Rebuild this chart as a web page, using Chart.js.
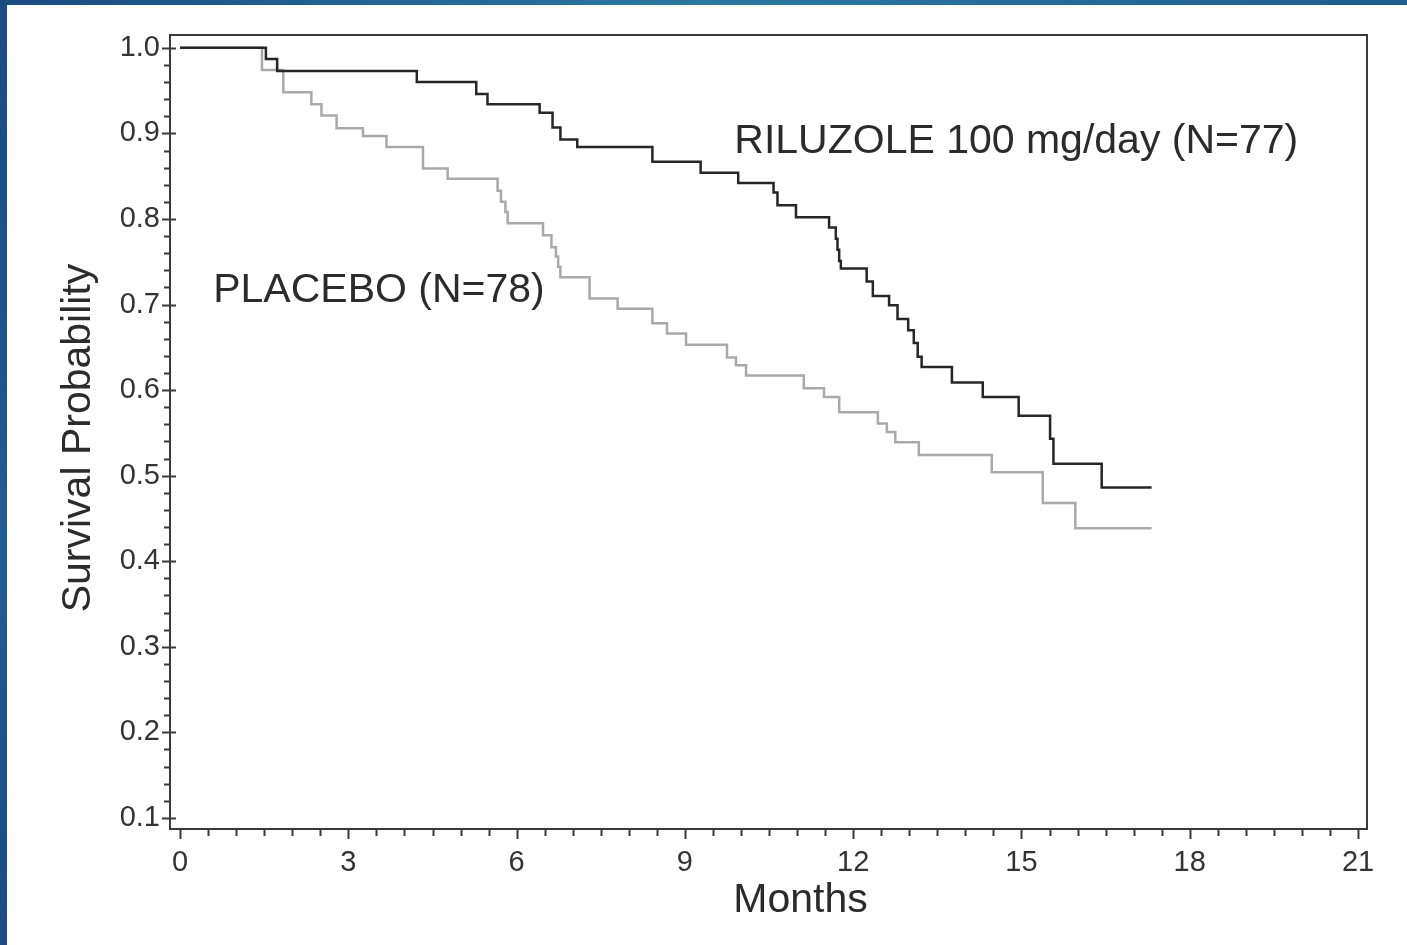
<!DOCTYPE html>
<html>
<head>
<meta charset="utf-8">
<title>Survival Probability - Riluzole vs Placebo</title>
<script src="https://cdn.jsdelivr.net/npm/chart.js@4.4.1/dist/chart.umd.min.js"></script>
<style>
  html, body { margin: 0; padding: 0; background: #fff; }
  body { width: 1407px; height: 945px; overflow: hidden; position: relative; }
  #wrap { position: absolute; left: 0; top: 0; width: 1407px; height: 945px; }
  #topBar { position: absolute; left: 0; top: 0; width: 1407px; height: 5px;
    background: linear-gradient(90deg, #1a4b82 0%, #2a79a0 50%, #1f5d8e 100%); }
  #leftBar { position: absolute; left: 0; top: 0; width: 7px; height: 945px;
    background: linear-gradient(180deg, #1a4b82 0%, #1f5e93 60%, #1a4b82 100%); }
</style>
</head>
<body>
<div id="wrap"><canvas id="kmChart" width="1407" height="945"></canvas></div>
<div id="topBar"></div>
<div id="leftBar"></div>
<script>
// Kaplan-Meier curves (months, survival probability)
const rilTimes = [0, 1.53, 1.73, 4.22, 5.28, 5.48, 6.41, 6.64, 6.78, 7.08, 8.42, 9.28, 9.95, 10.58, 10.65, 10.98,
  11.57, 11.69, 11.72, 11.75, 11.78, 12.24, 12.35, 12.64, 12.79, 12.98, 13.08, 13.15, 13.22, 13.76, 14.31,
  14.95, 15.51, 15.57, 16.43, 17.32];
const rilSurv = [1.0, 0.987, 0.973, 0.960, 0.946, 0.934, 0.924, 0.907, 0.893, 0.884, 0.867, 0.854, 0.842, 0.831, 0.816, 0.802,
  0.790, 0.777, 0.764, 0.751, 0.742, 0.727, 0.710, 0.699, 0.683, 0.670, 0.655, 0.639, 0.627, 0.609, 0.592,
  0.570, 0.543, 0.514, 0.486, 0.486];

const plaTimes = [0, 1.46, 1.84, 2.34, 2.52, 2.79, 3.26, 3.68, 4.33, 4.77, 5.66, 5.72, 5.80, 5.84, 6.47, 6.62,
  6.70, 6.74, 6.78, 7.30, 7.80, 8.42, 8.68, 9.02, 9.75, 9.91, 10.09, 11.12, 11.48, 11.75, 12.44, 12.60,
  12.75, 13.17, 14.47, 15.38, 15.96, 17.32];
const plaSurv = [1.0, 0.974, 0.948, 0.934, 0.921, 0.906, 0.897, 0.884, 0.859, 0.847, 0.833, 0.820, 0.808, 0.795, 0.781, 0.767,
  0.756, 0.744, 0.732, 0.707, 0.695, 0.678, 0.666, 0.653, 0.638, 0.629, 0.617, 0.602, 0.592, 0.574, 0.561, 0.551,
  0.539, 0.524, 0.504, 0.468, 0.4385, 0.4385];

const xTickValues = [0, 3, 6, 9, 12, 15, 18, 21];
const yTickValues = [0.1, 0.2, 0.3, 0.4, 0.5, 0.6, 0.7, 0.8, 0.9, 1.0];

// curve labels, anchored in data units (left edge, baseline)
const curveLabels = ['RILUZOLE 100 mg/day (N=77)', 'PLACEBO (N=78)'];
const curveLabelX = [9.88, 0.59];
const curveLabelY = [0.877, 0.703];

const FONT = '"Liberation Sans", Arial, Helvetica, sans-serif';
const INK = '#2b2b2b';

function toPoints(times, surv) {
  return times.map((t, i) => ({ x: t, y: surv[i] }));
}

const framePlugin = {
  id: 'framePlugin',
  afterDraw(chart) {
    const { ctx, chartArea: a, scales: { x, y } } = chart;
    ctx.save();
    ctx.strokeStyle = '#3a3a3a';
    ctx.lineWidth = 2;
    ctx.strokeRect(a.left, a.top, a.right - a.left, a.bottom - a.top);

    // x ticks every half month, below the axis
    ctx.beginPath();
    for (let k = 0; k <= 42; k++) {
      const px = Math.round(x.getPixelForValue(k * 0.5)) + 0.5;
      const len = k % 6 === 0 ? 10 : 7;
      ctx.moveTo(px, a.bottom);
      ctx.lineTo(px, a.bottom + len);
    }
    // y ticks every 0.02, majors cross the axis
    for (let k = 5; k <= 50; k++) {
      const py = Math.round(y.getPixelForValue(k * 0.02)) + 0.5;
      if (k % 5 === 0) {
        ctx.moveTo(a.left - 8, py);
        ctx.lineTo(a.left + 6, py);
      } else {
        ctx.moveTo(a.left - 6, py);
        ctx.lineTo(a.left, py);
      }
    }
    ctx.stroke();

    // curve labels
    ctx.fillStyle = INK;
    ctx.font = '41px ' + FONT;
    ctx.textAlign = 'left';
    ctx.textBaseline = 'alphabetic';
    curveLabels.forEach((txt, i) => {
      ctx.fillText(txt, x.getPixelForValue(curveLabelX[i]), y.getPixelForValue(curveLabelY[i]));
    });

    // axis titles
    ctx.textAlign = 'center';
    ctx.fillText('Months', (a.left + a.right) / 2 + 32, a.bottom + 83);
    ctx.translate(90, (a.top + a.bottom) / 2 + 6);
    ctx.rotate(-Math.PI / 2);
    ctx.fillText('Survival Probability', 0, 0);
    ctx.restore();
  }
};

new Chart(document.getElementById('kmChart'), {
  type: 'line',
  data: {
    datasets: [
      {
        label: 'RILUZOLE 100 mg/day (N=77)',
        data: toPoints(rilTimes, rilSurv),
        borderColor: '#262626',
        borderWidth: 2.5,
        stepped: 'before',
        pointRadius: 0,
        fill: false
      },
      {
        label: 'PLACEBO (N=78)',
        data: toPoints(plaTimes, plaSurv),
        borderColor: '#a9a9a9',
        borderWidth: 2.5,
        stepped: 'before',
        pointRadius: 0,
        fill: false
      }
    ]
  },
  options: {
    responsive: false,
    animation: false,
    events: [],
    layout: { padding: { top: 35, right: 40, left: 0, bottom: 0 } },
    plugins: { legend: { display: false }, tooltip: { enabled: false } },
    scales: {
      x: {
        type: 'linear',
        min: -0.18,
        max: 21.16,
        afterBuildTicks: s => { s.ticks = xTickValues.map(v => ({ value: v })); },
        afterFit: s => { s.height = 116; },
        grid: { display: false, drawTicks: false },
        border: { display: false },
        ticks: {
          autoSkip: false, maxRotation: 0, padding: 17,
          color: '#333', font: { family: FONT, size: 29 },
          callback: v => String(v)
        }
      },
      y: {
        type: 'linear',
        min: 0.087,
        max: 1.015,
        afterBuildTicks: s => { s.ticks = yTickValues.map(v => ({ value: v })); },
        afterFit: s => { s.width = 170; },
        grid: { display: false, drawTicks: false },
        border: { display: false },
        ticks: {
          autoSkip: false, padding: 10,
          color: '#333', font: { family: FONT, size: 29 },
          callback: v => v.toFixed(1)
        }
      }
    }
  },
  plugins: [framePlugin]
});
</script>
</body>
</html>
